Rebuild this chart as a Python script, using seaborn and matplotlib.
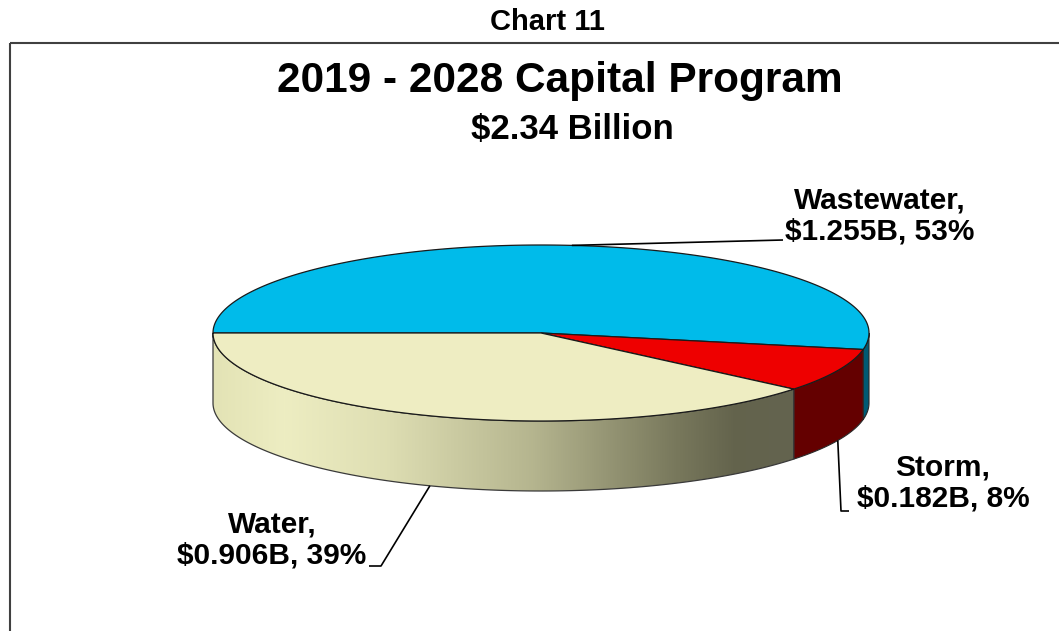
import numpy as np
import matplotlib
matplotlib.use("Agg")
import matplotlib.pyplot as plt
import seaborn as sns
from matplotlib.patches import Polygon, Rectangle
from matplotlib.colors import LinearSegmentedColormap

sns.set_theme(style="white")
plt.rcParams["font.family"] = ["Liberation Sans", "DejaVu Sans"]

# ---- data -------------------------------------------------------------
categories = ["Wastewater", "Storm", "Water"]
amounts_billion = [1.255, 0.182, 0.906]
shares_pct = [53, 8, 39]
top_colors = ["#00BBEA", "#EE0000", "#EEEDC2"]
side_colors = ["#005A73", "#640000", None]   # Water wall is shaded
chart_number = "Chart 11"
title = "2019 - 2028 Capital Program"
subtitle = "$2.34 Billion"

# ---- canvas in pixel units ---------------------------------------------
W, H = 1059, 631
fig = plt.figure(figsize=(W / 100, H / 100), dpi=100)
ax = fig.add_axes([0, 0, 1, 1])

cx, cy, rx, ry, depth = 541, 333, 328, 88, 70


def ell(theta_deg, dy=0.0):
    t = np.radians(theta_deg)
    return cx + rx * np.cos(t), cy - ry * np.sin(t) + dy


# slice angles: start at 9 o'clock, run clockwise
bounds = 180 - 360 * np.concatenate([[0], np.cumsum(shares_pct)]) / 100.0
starts, ends = bounds[:-1], bounds[1:]
mids = (starts + ends) / 2

# ---- front walls ---------------------------------------------------------
wall_shade = LinearSegmentedColormap.from_list(
    "wall",
    [(0.00, (0.89, 0.89, 0.71)),
     (0.12, (0.93, 0.93, 0.76)),
     (0.30, (0.87, 0.87, 0.70)),
     (0.55, (0.71, 0.71, 0.56)),
     (0.80, (0.47, 0.47, 0.36)),
     (0.90, (0.39, 0.39, 0.30)),
     (1.00, (0.39, 0.39, 0.31))])

for i, (s, e) in enumerate(zip(starts, ends)):
    lo, hi = max(e, -180.0), min(s, 0.0)
    if hi <= lo:
        continue
    th = np.linspace(lo, hi, 200)
    tx, ty = ell(th)
    bx, by = ell(th[::-1], depth)
    pts = np.column_stack([np.r_[tx, bx], np.r_[ty, by]])
    if side_colors[i] is None:
        poly = Polygon(pts, closed=True, facecolor="none", edgecolor="none")
        ax.add_patch(poly)
        x0, x1 = pts[:, 0].min(), pts[:, 0].max()
        grad = np.linspace(0, 1, 512)[None, :]
        im = ax.imshow(grad, cmap=wall_shade, aspect="auto",
                       extent=(x0, x1, pts[:, 1].max() + 2, pts[:, 1].min() - 2),
                       interpolation="bilinear", zorder=1)
        im.set_clip_path(poly)
        ax.add_patch(Polygon(pts, closed=True, facecolor="none",
                             edgecolor="#3a3a3a", lw=0.9, zorder=2))
    else:
        ax.add_patch(Polygon(pts, closed=True, facecolor=side_colors[i],
                             edgecolor="#2a2a2a", lw=0.8, zorder=2))

# ---- top face --------------------------------------------------------------
for i, (s, e) in enumerate(zip(starts, ends)):
    th = np.linspace(s, e, 300)
    ax_, ay_ = ell(th)
    pts = np.column_stack([np.r_[cx, ax_], np.r_[cy, ay_]])
    ax.add_patch(Polygon(pts, closed=True, facecolor=top_colors[i],
                         edgecolor="#1a1a1a", lw=0.9, zorder=3))

# ---- labels with leader lines ---------------------------------------------
label_pos = [(880, 216), (943, 483), (272, 540)]
leader_knee = [[(783, 240)], [(841, 511), (849, 511)], [(381, 566), (369, 566)]]
on_front = [False, True, True]
for i, name in enumerate(categories):
    dy = depth if on_front[i] else 0
    sx, sy = ell(mids[i], dy)
    xs = [sx] + [p[0] for p in leader_knee[i]]
    ys = [sy] + [p[1] for p in leader_knee[i]]
    ax.plot(xs, ys, color="black", lw=1.2, zorder=4, solid_capstyle="butt")
    txt = f"{name},\n${amounts_billion[i]:.3f}B, {shares_pct[i]}%"
    ax.text(*label_pos[i], txt, ha="center", va="center", ma="center",
            fontsize=21.5, fontweight="bold", color="black", linespacing=1.1,
            zorder=5)

# ---- titles and frame -----------------------------------------------------
ax.text(547, 22, chart_number, ha="center", va="center", fontsize=21,
        fontweight="bold", color="black")
ax.text(560, 81, title, ha="center", va="center", fontsize=30.5,
        fontweight="bold", color="black")
ax.text(572, 129, subtitle, ha="center", va="center", fontsize=25,
        fontweight="bold", color="black")
ax.add_patch(Rectangle((10, 43), W + 20, H, facecolor="none",
                       edgecolor="#404040", lw=1.5, zorder=0))

ax.set_xlim(0, W)
ax.set_ylim(H, 0)
ax.axis("off")
fig.savefig("out.png", dpi=100, facecolor="white")
